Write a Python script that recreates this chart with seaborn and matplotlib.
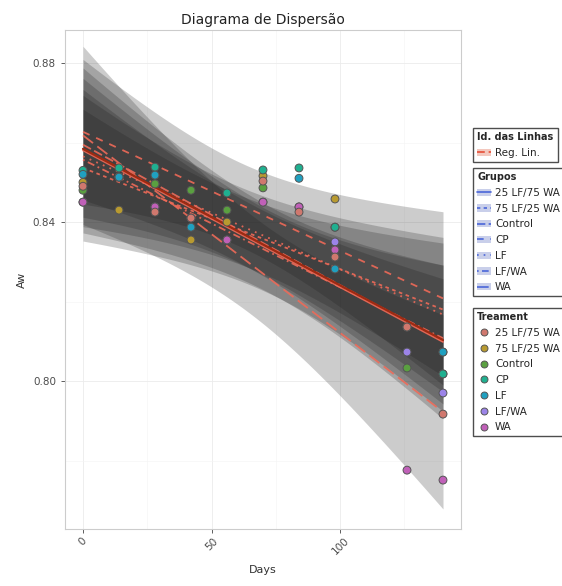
"""
Scatter of water activity (Aw) over storage days per treatment, with a linear
regression band for each group and an overall linear fit.
"""

import matplotlib

matplotlib.use("Agg")
import matplotlib.pyplot as plt
import matplotlib.ticker as ticker
from matplotlib.lines import Line2D
from matplotlib.patches import Patch
import numpy as np
import pandas as pd
import seaborn as sns

sns.set_theme(style="white")
plt.rcParams["font.family"] = ["DejaVu Sans"]

# Data (NaN = no point for that treatment/day;
# some points sit hidden under others in the same cluster)
days = [0, 14, 28, 42, 56, 70, 84, 98, 126, 140]
treatments = ["25 LF/75 WA", "75 LF/25 WA", "Control", "CP", "LF", "LF/WA", "WA"]
nan = np.nan
aw_25lf = [0.849, nan, 0.8425, 0.841, nan, 0.8503, 0.8425, 0.8312, 0.8136, 0.7917]
aw_75lf = [0.850, 0.843, 0.8496, 0.8355, 0.840, 0.8516, nan, 0.8458, 0.8136, 0.8073]
aw_control = [0.848, 0.8513, 0.8496, 0.848, 0.843, 0.8486, nan, 0.8387, 0.8033, 0.8018]
aw_cp = [0.853, 0.8536, 0.8538, nan, 0.8473, 0.8531, 0.8536, 0.8387, nan, 0.8018]
aw_lf = [0.852, 0.8513, 0.8518, 0.8387, nan, nan, 0.851, 0.8282, nan, 0.8073]
aw_lfwa = [0.845, nan, 0.8438, nan, 0.8355, 0.845, 0.8438, 0.835, 0.8073, 0.797]
aw_wa = [0.845, 0.8513, 0.8438, 0.841, 0.8355, 0.845, 0.8438, 0.833, 0.7776, 0.7751]

# order in which the point layers stack (last on top)
draw_order = ["LF/WA", "WA", "75 LF/25 WA", "Control", "25 LF/75 WA", "CP", "LF"]

series = [aw_25lf, aw_75lf, aw_control, aw_cp, aw_lf, aw_lfwa, aw_wa]
rows = []
for name, vals in zip(treatments, series):
    for d, v in zip(days, vals):
        if not np.isnan(v):
            rows.append({"Days": d, "Aw": v, "Treatment": name})
df = pd.DataFrame(rows)

palette = ["#D0786E", "#B89A30", "#5AA040", "#20B090", "#20A0C0", "#9C84E8", "#C060B8"]
linestyles = ["-", (0, (2, 2)), (0, (5, 2)), (0, (4, 4)), (0, (1, 3)),
              (0, (1, 2, 4, 2)), (0, (7, 3))]

# two-sided 95% t quantiles by residual degrees of freedom
T975 = {1: 12.706, 2: 4.303, 3: 3.182, 4: 2.776, 5: 2.571, 6: 2.447,
        7: 2.365, 8: 2.306, 9: 2.262, 10: 2.228}


def lm_band(x, y, grid):
    """Linear fit with a 95% confidence band for the mean (like geom_smooth lm)."""
    x = np.asarray(x, float)
    y = np.asarray(y, float)
    n = len(x)
    b, a = np.polyfit(x, y, 1)
    fit = a + b * grid
    resid = y - (a + b * x)
    s = np.sqrt(np.sum(resid ** 2) / (n - 2))
    sxx = np.sum((x - x.mean()) ** 2)
    se = s * np.sqrt(1 / n + (grid - x.mean()) ** 2 / sxx)
    t = T975.get(n - 2, 1.96 + 2.5 / (n - 2))
    return fit, fit - t * se, fit + t * se


fig = plt.figure(figsize=(5.62, 5.86), dpi=100)
ax = fig.add_axes([65 / 562, 1 - 529 / 586, 396 / 562, 499 / 586])

# Per-group regression bands
for name, ls in zip(treatments, linestyles):
    sub = df[df["Treatment"] == name]
    grid = np.linspace(sub["Days"].min(), sub["Days"].max(), 80)
    fit, lo, hi = lm_band(sub["Days"], sub["Aw"], grid)
    ax.fill_between(grid, lo, hi, color="#1A1A1A", alpha=0.22, lw=0, zorder=2)
    ax.plot(grid, fit, color="#EE6A58", lw=1.3, ls=ls, alpha=0.9, zorder=3)

# Overall linear regression
sns.regplot(data=df, x="Days", y="Aw", scatter=False, ci=None,
            line_kws=dict(color="#9E2A12", lw=1.6, zorder=4), ax=ax)

df_pts = pd.concat([df[df["Treatment"] == t] for t in draw_order])
sns.scatterplot(data=df_pts, x="Days", y="Aw", hue="Treatment", hue_order=treatments,
                palette=palette, s=32, edgecolor="#555555", linewidth=0.7,
                legend=False, zorder=5, ax=ax)

ax.set_xlim(-7, 147)
ax.set_ylim(0.7628, 0.8883)
ax.xaxis.set_major_locator(ticker.FixedLocator([0, 50, 100]))
ax.xaxis.set_minor_locator(ticker.FixedLocator([25, 75, 125]))
ax.yaxis.set_major_locator(ticker.FixedLocator([0.80, 0.84, 0.88]))
ax.yaxis.set_minor_locator(ticker.FixedLocator([0.78, 0.82, 0.86]))
ax.yaxis.set_major_formatter(ticker.StrMethodFormatter("{x:.2f}"))
ax.grid(True, which="major", color="#EBEBEB", lw=0.6)
ax.grid(True, which="minor", color="#F4F4F4", lw=0.4)
ax.set_axisbelow(True)
for sp in ax.spines.values():
    sp.set_color("#CCCCCC")
    sp.set_linewidth(0.8)
ax.tick_params(axis="both", which="major", length=3, width=0.6, color="#444444",
               labelsize=7.5, labelcolor="#4D4D4D", bottom=True, left=True)
ax.tick_params(axis="x", rotation=45, pad=2)
ax.set_xlabel("Days", fontsize=8, color="#333333", labelpad=6)
ax.set_ylabel("Aw", fontsize=8, color="#333333", labelpad=4)
ax.set_title("Diagrama de Dispersão", fontsize=10, color="#222222", pad=4)

# Legends on the right
leg_kw = dict(frameon=True, fancybox=False, edgecolor="#222222", fontsize=7.5,
              title_fontproperties={"weight": "bold", "size": 7},
              alignment="left", handlelength=1.3, handletextpad=0.4,
              borderpad=0.4, labelspacing=0.55, borderaxespad=0)

h1 = [(Patch(facecolor="#F3C8BE", edgecolor="none"),
       Line2D([], [], color="#E8604A", lw=1.4, ls=(0, (4, 2))))]
leg1 = fig.legend(h1, ["Reg. Lin."], title="Id. das Linhas", loc="upper left",
                  bbox_to_anchor=(473 / 562, 1 - 128 / 586), **leg_kw)

h2 = [(Patch(facecolor="#C9CFEA", edgecolor="none"),
       Line2D([], [], color="#4A66D8", lw=1.2, ls=ls)) for ls in linestyles]
leg2 = fig.legend(h2, treatments, title="Grupos", loc="upper left",
                  bbox_to_anchor=(473 / 562, 1 - 168 / 586), **leg_kw)

h3 = [Line2D([], [], ls="none", marker="o", markersize=5, markerfacecolor=c,
             markeredgecolor="#555555", markeredgewidth=0.7) for c in palette]
leg3 = fig.legend(h3, treatments, title="Treament", loc="upper left",
                  bbox_to_anchor=(473 / 562, 1 - 308 / 586), **leg_kw)

fig.savefig("out.png", dpi=100)
